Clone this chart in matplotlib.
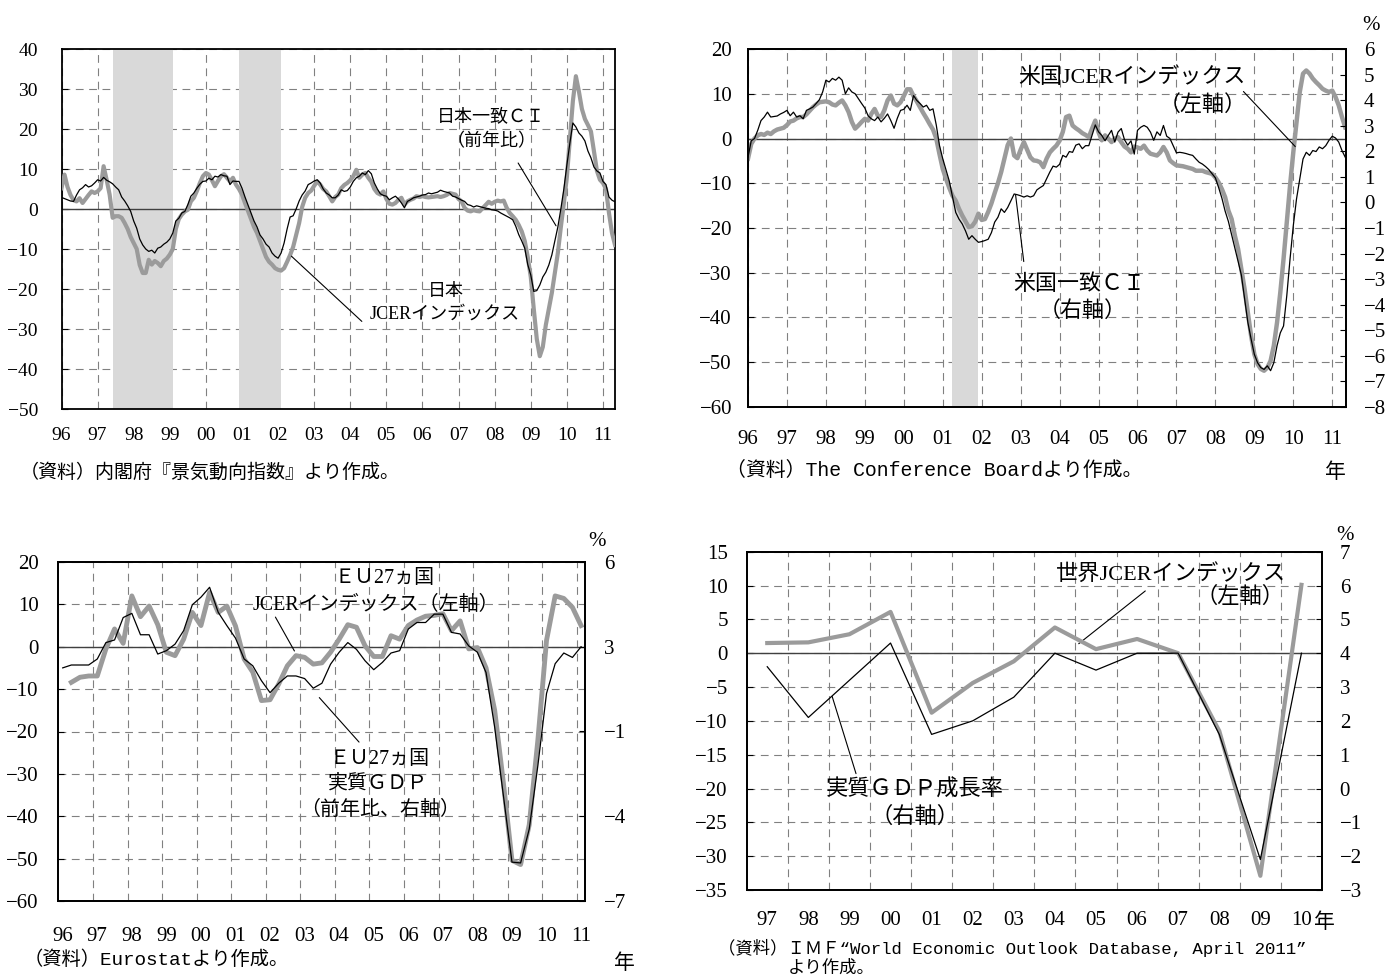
import numpy as np
import matplotlib
matplotlib.use('Agg')
import matplotlib.pyplot as plt

# ---------------- data ----------------
# Japan, monthly Jan 1996 - May 2011
jp_ci = [2.9, 2.6, 2.3, 2.0, 1.9, 3.5, 4.8, 5.3, 6.1, 5.5, 5.8, 6.5,
         7.3, 7.0, 7.9, 7.2, 6.8, 6.3, 5.5, 4.8, 3.0, 2.0, 0.8, -0.6,
         -3.0, -4.8, -7.5, -9.0, -10.0, -10.6, -10.3, -11.0, -9.8, -9.5, -8.8, -8.3,
         -7.5, -6.0, -3.0, -2.3, -1.0, -0.6, 1.1, 3.2, 4.0, 5.2, 6.2, 6.9,
         7.0, 7.7, 7.3, 8.2, 8.0, 8.6, 8.3, 8.2, 6.1, 7.0, 6.9, 6.9,
         5.2, 3.0, 1.0, -1.0, -3.0, -4.5, -6.5, -7.5, -8.8, -9.5, -11.0, -11.8,
         -12.3, -11.0, -8.5, -5.0, -2.0, -1.7, 0.0, 2.0, 3.5, 4.5, 6.1, 6.5,
         7.0, 7.3, 6.5, 5.0, 4.0, 3.5, 2.8, 2.8, 3.5, 4.8, 4.4, 4.6,
         5.5, 6.9, 7.8, 8.2, 9.0, 8.6, 9.6, 8.8, 6.5, 5.0, 3.8, 3.4,
         3.2, 2.3, 2.8, 3.2, 2.5, 1.5, 0.3, 1.9, 2.3, 2.8, 3.0, 3.2,
         3.5, 3.6, 4.0, 3.8, 4.0, 4.2, 4.7, 4.4, 4.2, 4.0, 3.2, 3.0,
         2.6, 2.2, 1.9, 1.1, 0.9, 0.5, 0.8, 0.6, 0.4, 0.2, 0.1, -0.2,
         -0.3, -0.5, -1.0, -1.4, -1.8, -2.2, -2.7, -4.3, -6.4, -8.0, -9.8, -13.9,
         -16.5, -20.6, -20.4, -19.0, -17.0, -15.8, -14.0, -11.5, -8.0, -4.5, 0.0, 5.0,
         11.0, 16.5, 21.5, 20.5, 19.0, 18.2, 17.0, 14.5, 12.8, 10.5, 9.5, 9.0,
         6.9, 6.1, 3.0, 2.2, 1.8]
jp_jcer = [5.2, 8.6, 5.5, 3.5, 2.2, 1.9, 2.7, 1.5, 2.5, 3.5, 4.4, 4.0,
           4.4, 5.2, 10.7, 7.3, 3.6, -2.2, -1.8, -1.8, -2.2, -3.5, -5.0, -7.0,
           -8.5, -10.0, -14.0, -16.0, -16.0, -12.7, -13.9, -13.0, -13.5, -14.3, -13.0, -12.4,
           -11.4, -10.0, -5.0, -2.5, -1.4, -0.6, -0.2, 1.9, 2.8, 4.5, 6.5, 8.2,
           9.0, 8.6, 7.2, 5.7, 7.0, 8.2, 8.7, 7.8, 6.9, 7.8, 6.1, 5.0,
           3.6, 1.5, -0.5, -2.5, -4.5, -6.0, -8.0, -10.0, -12.0, -13.2, -13.9, -14.8,
           -15.2, -15.4, -14.8, -13.2, -11.5, -9.5, -6.5, -3.5, 0.5, 2.8, 4.0, 4.6,
           5.8, 6.9, 6.1, 5.0, 4.4, 3.2, 1.9, 3.0, 3.6, 5.2, 6.0, 6.5,
           7.2, 8.2, 9.8, 7.8, 8.6, 9.0, 7.8, 6.8, 5.0, 4.0, 3.6, 4.4,
           2.5, 1.3, 1.1, 1.5, 2.3, 2.8, 1.1, 1.9, 2.3, 2.6, 3.2, 3.0,
           3.2, 3.0, 2.9, 3.0, 3.1, 3.2, 3.0, 3.2, 3.5, 4.0, 3.8, 3.6,
           2.5, 1.9, 0.3, -0.4, -0.6, -0.3, -0.5, -0.6, 0.2, 1.0, 1.8, 1.3,
           1.8, 2.1, 1.9, 2.1, 0.3, -1.0, -1.8, -2.7, -4.0, -5.6, -8.0, -12.0,
           -17.0, -25.0, -32.5, -36.8, -34.5, -29.0, -25.0, -21.0, -16.0, -11.0, -4.5, 1.5,
           8.0, 17.5, 27.0, 33.2, 29.4, 25.0, 22.5, 21.0, 19.4, 14.4, 9.5, 7.3,
           6.5, 5.0, -1.0, -6.0, -9.0]
jp_recessions = [(1997, 6, 1999, 1), (2000, 12, 2002, 1)]

# United States, monthly Jan 1996 - May 2011
us_jcer = [-4.5, -1.2, 0.0, 0.7, 1.0, 0.8, 1.3, 1.0, 1.6, 2.0, 2.2, 2.4,
           3.0, 3.8, 4.0, 4.5, 4.8, 4.8, 5.4, 6.2, 7.0, 7.6, 8.1, 8.2,
           8.3, 8.1, 7.6, 7.4, 8.0, 8.5, 7.4, 5.9, 3.7, 2.2, 2.9, 3.7,
           4.4, 4.0, 5.5, 6.6, 5.1, 4.8, 6.3, 8.5, 9.6, 7.8, 7.4, 8.1,
           9.5, 11.0, 11.0, 9.5, 8.3, 7.0, 5.7, 4.5, 3.2, 2.0, 0.0, -3.5,
           -6.8, -9.0, -11.0, -12.8, -13.9, -15.7, -17.2, -18.5, -19.8, -19.6, -18.6, -16.8,
           -18.2, -18.0, -16.4, -14.5, -12.2, -10.0, -7.5, -4.5, -1.5, 0.0, -3.8, -4.4,
           -2.5, -0.8, -2.5, -4.2, -4.9, -5.0, -5.3, -6.4, -4.5, -3.1, -2.3, -1.6,
           -0.5, 1.5, 4.8, 5.1, 2.9, 2.3, 1.8, 1.2, 0.8, 0.3, 2.2, 4.0,
           1.4, -0.4, 0.7, 0.0, -0.8, 0.0, 0.3, -0.8, -1.8, -2.3, -3.1, -1.8,
           -2.0, -2.3, -1.6, -2.7, -3.4, -3.6, -3.8, -3.1, -1.9, -3.1, -4.9, -5.5,
           -6.0, -6.1, -6.2, -6.4, -6.6, -6.8, -7.2, -7.2, -7.2, -7.5, -7.7, -7.9,
           -8.7, -9.8, -11.3, -13.1, -16.1, -18.0, -21.7, -24.7, -29.2, -33.7, -38.9, -44.1,
           -48.2, -50.4, -51.5, -51.9, -51.2, -49.7, -46.3, -41.1, -34.4, -26.9, -18.7, -10.5,
           -3.1, 3.7, 10.4, 14.5, 15.2, 14.5, 13.4, 12.6, 11.9, 11.1, 10.7, 10.4,
           10.7, 9.3, 7.4, 4.8, 2.5]
us_ci = [1.77, 2.41, 2.50, 2.82, 3.20, 3.34, 3.53, 3.34, 3.36, 3.38, 3.46, 3.52,
         3.60, 3.39, 3.53, 3.34, 3.39, 3.27, 3.60, 3.66, 3.73, 3.87, 4.02, 4.32,
         4.78, 4.71, 4.85, 4.78, 4.90, 4.78, 4.25, 4.48, 4.32, 4.25, 4.06, 3.87,
         3.69, 3.39, 3.27, 3.20, 3.34, 3.15, 3.29, 3.46, 3.20, 2.90, 3.29, 3.60,
         3.64, 3.80, 3.60, 4.18, 3.99, 3.87, 3.73, 3.80, 3.60, 3.66, 3.03, 2.22,
         1.71, 1.28, 0.84, 0.23, -0.39, -0.65, -0.84, -1.11, -1.44, -1.30, -1.44, -1.56,
         -1.53, -1.49, -1.44, -1.18, -0.77, -0.58, -0.25, -0.39, -0.20, 0.07, 0.33, 0.30,
         0.26, 0.21, 0.26, 0.21, 0.26, 0.49, 0.58, 0.66, 0.93, 1.19, 1.42, 1.38,
         1.49, 1.84, 1.77, 1.99, 1.96, 2.24, 2.29, 2.10, 2.22, 2.22, 2.62, 3.03,
         2.76, 2.62, 2.41, 2.62, 2.82, 2.36, 2.75, 2.89, 2.45, 2.24, 2.41, 1.89,
         2.82, 2.94, 3.01, 2.94, 2.75, 2.43, 2.76, 2.62, 3.01, 2.59, 2.50, 2.22,
         1.94, 1.96, 1.94, 1.91, 1.87, 1.84, 1.70, 1.57, 1.50, 1.40, 1.28, 1.12,
         0.96, 0.58, 0.17, -0.34, -0.74, -1.26, -1.79, -2.31, -2.84, -3.77, -4.69, -5.34,
         -5.94, -6.27, -6.46, -6.53, -6.39, -6.58, -6.27, -5.60, -5.10, -4.83, -3.64, -2.21,
         -0.91, 0.14, 0.93, 1.70, 1.96, 1.84, 2.03, 1.99, 2.17, 2.10, 2.22, 2.43,
         2.59, 2.52, 2.36, 2.03, 1.77]
us_recessions = [(2001, 4, 2001, 11)]

# EU27, quarterly 1996Q1 - 2011Q1 (JCER index starts 1996Q2)
eu_jcer = [-8.4, -7.2, -6.9, -6.9, -0.5, 4.2, 0.8, 12.0, 7.1, 9.6, 5.2, -1.3, -2.1, 1.8, 8.1,
           5.0, 12.8, 8.1, 9.6, 4.9, -2.9, -6.0, -12.7, -12.5, -8.8, -4.5, -2.1, -2.5, -4.1, -3.8,
           -1.3, 1.8, 5.2, 4.6, 0.2, -2.3, -2.3, 2.6, 1.8, 5.0, 6.3, 7.2, 7.4, 7.8, 3.8,
           6.1, -0.5, -0.2, -5.0, -15.0, -32.0, -50.4, -51.4, -42.0, -22.0, 1.5, 12.0, 11.4, 9.3, 5.0]
eu_gdp = [1.94, 2.05, 2.05, 2.05, 2.28, 2.91, 3.01, 3.87, 4.03, 3.21,
          3.21, 2.47, 2.60, 2.85, 3.37, 4.36, 4.65, 5.03, 4.07, 3.56,
          3.08, 2.28, 2.02, 1.45, 0.99, 1.35, 1.63, 1.63, 1.53, 1.16,
          1.35, 2.08, 2.54, 2.91, 2.65, 2.21, 1.87, 2.15, 2.51, 2.60,
          3.43, 3.68, 3.68, 4.00, 4.00, 3.30, 3.24, 2.78, 2.54, 1.76,
          -0.34, -2.94, -5.51, -5.54, -4.24, -1.80, 0.96, 2.10, 2.51, 2.34, 2.75]

# World, annual 1997 - 2010
world_years = ['97', '98', '99', '00', '01', '02', '03', '04', '05', '06', '07', '08', '09', '10']
world_jcer = [1.5, 1.6, 2.8, 6.1, -8.8, -4.4, -1.2, 3.8, 0.6, 2.1, 0.0, -11.5, -32.9, 10.1]
world_gdp = [3.6, 2.1, 3.2, 4.3, 1.6, 2.0, 2.7, 4.0, 3.5, 4.0, 4.0, 1.6, -2.1, 4.0]

years = list(range(1996, 2012))
year_labels = [f'{y % 100:02d}' for y in years]
eu_right_labels = ['−7', '−4', '−1', '3', '6']

# ---------------- style ----------------
plt.rcParams['font.family'] = ['Liberation Serif', 'Noto Sans CJK JP']
plt.rcParams['axes.linewidth'] = 1.3

W, H = 1392, 975
GRAY = '#9b9b9b'
SHADE = '#d9d9d9'
GRID = dict(color='#808080', lw=0.8, ls=(0, (7, 5)))
MONO = ['Liberation Mono', 'Noto Sans CJK JP']
JP = ['Noto Sans CJK JP']

fig = plt.figure(figsize=(W / 100, H / 100), dpi=100)


def box(l, t, r, b):
    return fig.add_axes([l / W, 1 - b / H, (r - l) / W, (b - t) / H])


def num(v, pos=None):
    return f'{v:g}'.replace('-', '−')


def ftext(x, y, s, **kw):
    fig.text(x / W, 1 - y / H, s, va='center', **kw)


def base(ax, lo, hi, step, ypad, xpad, fs):
    ax.set_ylim(lo, hi)
    ax.set_yticks(np.arange(lo, hi + step / 2, step))
    ax.yaxis.set_major_formatter(plt.FuncFormatter(num))
    ax.set_axisbelow(True)
    ax.grid(axis='y', **GRID)
    ax.axhline(0, color='#404040', lw=1.0, zorder=2)
    ax.tick_params(axis='y', direction='in', length=4, labelsize=fs, pad=ypad)
    ax.tick_params(axis='x', direction='in', length=0, labelsize=fs, pad=xpad)


def right(ax, fs, pad):
    ax.tick_params(axis='y', direction='in', length=4, labelsize=fs, pad=pad)


def note(ax, items, leaders, fs):
    for s, x, y in items:
        ax.text(x, y, s, ha='center', va='center', fontsize=fs, zorder=6)
    for (x0, y0), (x1, y1) in leaders:
        ax.annotate('', xy=(x1, y1), xytext=(x0, y0), zorder=6,
                    arrowprops=dict(arrowstyle='-', color='black', lw=0.8,
                                    shrinkA=0, shrinkB=0))


def shade(ax, periods):
    for y0, m0, y1, m1 in periods:
        ax.axvspan(y0 + (m0 - 1) / 12, y1 + m1 / 12, color=SHADE, lw=0, zorder=1.5)


t_month = 1996 + np.arange(len(jp_ci)) / 12

# ---- Japan ----
ax1 = box(61.5, 49, 615, 409)
base(ax1, -50, 40, 10, 17, 13, 14)
shade(ax1, jp_recessions)
ax1.plot(t_month, jp_jcer, color=GRAY, lw=3.0, zorder=3)
ax1.plot(t_month, jp_ci, color='black', lw=0.9, zorder=4)
ax1.set_xlim(1996, t_month[-1])
ax1.set_xticks(years)
ax1.set_xticklabels(year_labels)
ax1.grid(axis='x', **GRID)
note(ax1, [('日本一致ＣＩ', 2007.9, 22.75), ('（前年比）', 2007.9, 16.9),
           ('日本', 2006.66, -20.6), ('JCERインデックス', 2006.62, -26.4)],
     [((2008.65, 11.5), (2009.7, -4.2)), ((2002.37, -11.8), (2004.32, -28.1))], 13)
ftext(20, 472, '（資料）内閣府『景気動向指数』より作成。', family=JP, fontsize=13.7)

# ---- United States ----
ax2 = box(748, 49, 1346, 407)
base(ax2, -60, 20, 10, 11.5, 16.5, 15)
shade(ax2, us_recessions)
ax2.plot(t_month, us_jcer, color=GRAY, lw=3.2, zorder=3)
ax2.set_xlim(1996, t_month[-1] + 0.02)
ax2.set_xticks(years)
ax2.set_xticklabels(year_labels)
ax2.grid(axis='x', **GRID)
ax2r = ax2.twinx()
ax2r.plot(t_month, us_ci, color='black', lw=0.9)
ax2r.set_ylim(-8, 6)
ax2r.set_yticks(range(-8, 7))
ax2r.yaxis.set_major_formatter(plt.FuncFormatter(num))
right(ax2r, 15, 13)
note(ax2, [('米国JCERインデックス', 2005.87, 13.6), ('（左軸）', 2007.68, 7.3),
           ('米国一致ＣＩ', 2004.5, -32.7), ('（右軸）', 2004.6, -38.7)],
     [((2008.72, 10.5), (2010.05, -1.8)), ((2002.87, -12.6), (2003.08, -27.5))], 15.8)
ftext(1371, 25, '%', ha='center', fontsize=15)
ftext(1335, 472, '年', ha='center', family=JP, fontsize=15)
ftext(726, 470, '（資料）The Conference Boardより作成。', family=MONO, fontsize=14.3)

# ---- EU27 ----
t_q = 1996.125 + 0.25 * np.arange(len(eu_gdp))
ax3 = box(58.4, 562, 585.4, 901)
base(ax3, -60, 20, 10, 14, 19, 15)
ax3.plot(t_q[1:], eu_jcer, color=GRAY, lw=3.5, zorder=3)
ax3.set_xlim(1996, 2011.25)
ax3.set_xticks(np.array(years) + 0.125)
ax3.set_xticklabels(year_labels)
ax3.set_xticks(years[1:], minor=True)
ax3.tick_params(axis='x', which='minor', length=0)
ax3.grid(axis='x', which='minor', **GRID)
ax3r = ax3.twinx()
ax3r.plot(t_q, eu_gdp, color='black', lw=0.9)
ax3r.set_ylim(-7, 6)
ax3r.set_yticks(np.linspace(-7, 6, 5))
ax3r.set_yticklabels(eu_right_labels)
right(ax3r, 15, 13.4)
note(ax3, [('ＥＵ27ヵ国', 2005.43, 16.1), ('JCERインデックス（左軸）', 2005.19, 9.8),
           ('ＥＵ27ヵ国', 2005.3, -26.5), ('実質ＧＤＰ', 2005.25, -32.7),
           ('（前年比、右軸）', 2005.3, -38.7)],
     [((2002.28, 7.0), (2002.83, -1.0)), ((2003.55, -12.0), (2004.7, -22.5))], 14.4)
ftext(597, 542, '%', ha='center', fontsize=15)
ftext(624, 963, '年', ha='center', family=JP, fontsize=15)
ftext(24, 960, '（資料）Eurostatより作成。', family=MONO, fontsize=13.9)

# ---- World ----
xc = np.arange(len(world_years))
ax4 = box(746.7, 551.7, 1322, 890)
base(ax4, -35, 15, 5, 13.5, 15, 15)
ax4.set_xlim(-0.5, len(world_years) - 0.5)
ax4.set_xticks(xc)
ax4.set_xticklabels(world_years)
ax4.set_xticks(xc[:-1] + 0.5, minor=True)
ax4.tick_params(axis='x', which='minor', length=0)
ax4.grid(axis='x', which='minor', **GRID)
ax4r = ax4.twinx()
ax4r.plot(xc, world_gdp, color='black', lw=0.9, zorder=3)
ax4r.plot(xc, world_jcer, color=GRAY, lw=3.0, zorder=2, transform=ax4.transData)
ax4r.set_ylim(-3, 7)
ax4r.set_yticks(range(-3, 8))
ax4r.yaxis.set_major_formatter(plt.FuncFormatter(num))
right(ax4r, 15, 12.7)
note(ax4, [('世界JCERインデックス', 9.83, 11.6), ('（左軸）', 11.5, 8.3),
           ('実質ＧＤＰ成長率', 3.6, -20.3), ('（右軸）', 3.6, -24.3)],
     [((9.2, 9.2), (7.58, 1.4)), ((1.58, -6.4), (2.16, -17.8))], 16)
ftext(1345, 535, '%', ha='center', fontsize=15)
ftext(1314, 922, '年', ha='left', family=JP, fontsize=15)
ftext(718, 948, '（資料）ＩＭＦ“World Economic Outlook Database, April 2011”',
      family=MONO, fontsize=12.5)
ftext(788, 968, 'より作成。', family=JP, fontsize=12.5)

fig.savefig('out.png', dpi=100)
